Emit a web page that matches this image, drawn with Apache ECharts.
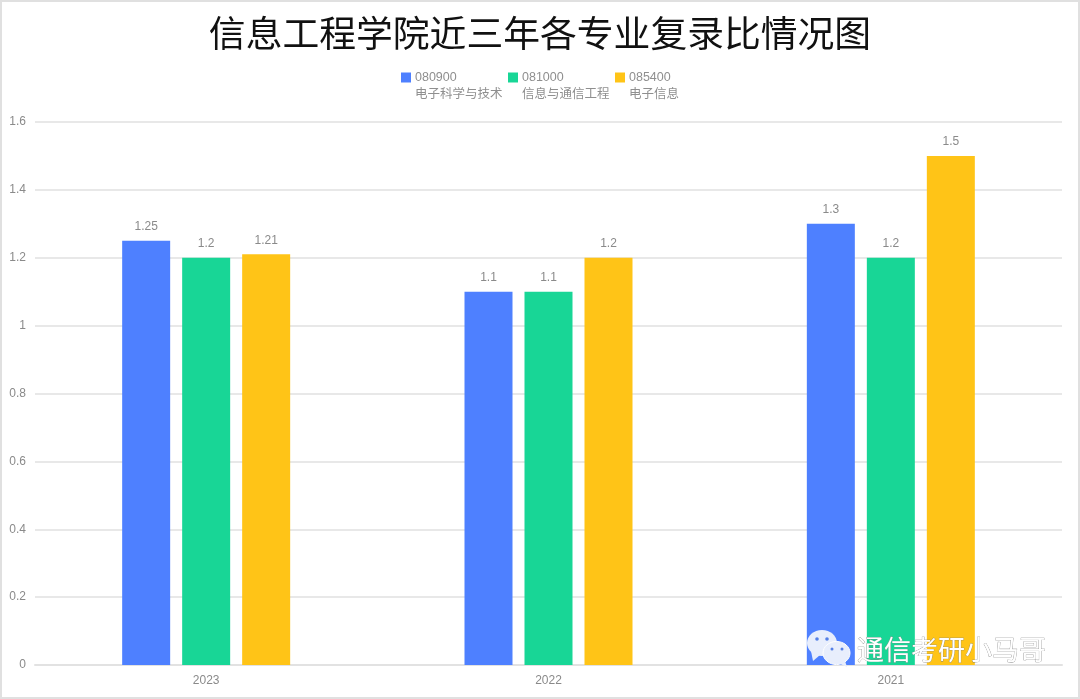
<!DOCTYPE html>
<html><head><meta charset="utf-8">
<style>html,body{margin:0;padding:0;background:#fff}#c{width:1080px;height:699px}</style>
<script src="https://cdn.jsdelivr.net/npm/echarts@6/dist/echarts.min.js"></script>
</head><body><div id="c"></div>
<script>
const titleText = '信息工程学院近三年各专业复录比情况图';
const categories = ['2023','2022','2021'];
const codes = ['080900','081000','085400'];
const majors = ['电子科学与技术','信息与通信工程','电子信息'];
const colors = ['#4e80ff','#18d696','#ffc417'];
const v080900 = [1.25,1.1,1.3];
const v081000 = [1.2,1.1,1.2];
const v085400 = [1.21,1.2,1.5];
const yTicks = {min:0,max:1.6,interval:0.2};
const watermark = '通信考研小马哥';
const font = '"Liberation Sans","Noto Sans CJK SC",sans-serif';
const values = [v080900,v081000,v085400];
const chart = echarts.init(document.getElementById('c'),null,{renderer:'canvas'});
const Z = 101;
const bubble = '#e8eefc', eye = '#5580e6';
chart.setOption({
  animation:false,
  backgroundColor:'#fff',
  title:{text:titleText,left:'center',top:13,textStyle:{fontFamily:font,fontSize:36.8,fontWeight:'normal',color:'#111'}},
  legend:{
    top:47,left:396,itemWidth:10,itemHeight:10,itemGap:5.5,icon:'rect',
    data:codes,
    formatter:n=>'\n'+n+'\n'+majors[codes.indexOf(n)],
    textStyle:{fontFamily:font,fontSize:12.5,color:'#8f8f8f',lineHeight:17,padding:[0,0,0,-1]}
  },
  grid:{left:35,right:18,top:122,bottom:34,containLabel:false},
  xAxis:{type:'category',data:categories,
    axisLine:{lineStyle:{color:'#e2e2e2',width:2}},axisTick:{show:false},
    axisLabel:{fontFamily:font,fontSize:12,color:'#8a8a8a',margin:10}},
  yAxis:{type:'value',min:yTicks.min,max:yTicks.max,interval:yTicks.interval,
    axisLine:{show:false},axisTick:{show:false},
    splitLine:{lineStyle:{color:'#e0e0e0',width:1.5}},
    axisLabel:{fontFamily:font,fontSize:12,color:'#8a8a8a',margin:9,padding:[3,0,0,0],
      formatter:v=>String(+v.toFixed(1))}},
  series:codes.map((c,i)=>({
    name:c,type:'bar',data:values[i],barWidth:48,barGap:'25%',
    itemStyle:{color:colors[i]},
    label:{show:true,position:'top',distance:8,fontFamily:font,fontSize:12,color:'#8a8a8a'}
  })),
  graphic:[
    {type:'rect',z:100,shape:{x:1,y:1,width:1078,height:697},style:{fill:'none',stroke:'#e0e0e0',lineWidth:2}},
    {type:'ellipse',z:Z,shape:{cx:822,cy:643,rx:15,ry:13},style:{fill:bubble}},
    {type:'polygon',z:Z,shape:{points:[[811,651],[813,661],[820,655]]},style:{fill:bubble}},
    {type:'circle',z:Z,shape:{cx:817,cy:639,r:1.8},style:{fill:eye}},
    {type:'circle',z:Z,shape:{cx:827,cy:639,r:1.8},style:{fill:eye}},
    {type:'ellipse',z:Z+1,shape:{cx:836.5,cy:653,rx:13.5,ry:11.5},style:{fill:bubble,stroke:'#ffffff',lineWidth:1}},
    {type:'polygon',z:Z+1,shape:{points:[[838,663],[847,667],[845,661]]},style:{fill:bubble}},
    {type:'circle',z:Z+2,shape:{cx:832,cy:649,r:1.5},style:{fill:eye}},
    {type:'circle',z:Z+2,shape:{cx:842,cy:649,r:1.5},style:{fill:eye}},
    {type:'text',z:Z+2,x:857,y:636,style:{text:watermark,fontFamily:'"Noto Sans CJK SC",sans-serif',fontSize:27,fill:'#ffffff',stroke:'#808080',lineWidth:0.6,shadowColor:'rgba(0,0,0,0.5)',shadowBlur:1,shadowOffsetX:1,shadowOffsetY:1}}
  ]
});
</script></body></html>
